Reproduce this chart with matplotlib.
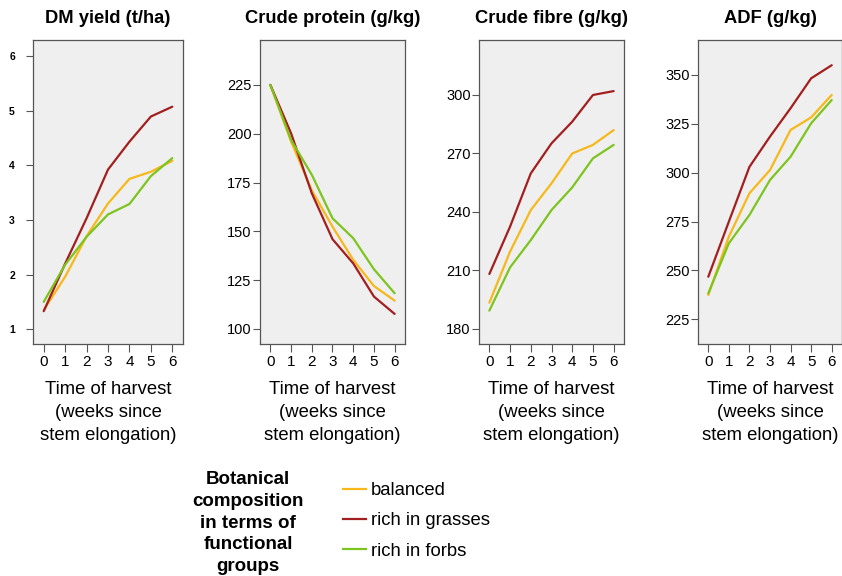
import matplotlib
matplotlib.use("Agg")
import matplotlib.pyplot as plt
from matplotlib.lines import Line2D

plt.rcParams['font.family'] = ['Liberation Sans', 'DejaVu Sans']

weeks = [0, 1, 2, 3, 4, 5, 6]
series_names = ["balanced", "rich in grasses", "rich in forbs"]
series_colors = ["#F6B81A", "#A11F1F", "#7DC41F"]

titles = ["DM yield (t/ha)", "Crude protein (g/kg)", "Crude fibre (g/kg)", "ADF (g/kg)"]

dm_balanced = [1.35, 1.96, 2.70, 3.30, 3.75, 3.88, 4.08]
dm_grasses = [1.33, 2.20, 3.03, 3.92, 4.43, 4.89, 5.07]
dm_forbs = [1.50, 2.18, 2.69, 3.10, 3.29, 3.80, 4.13]

cp_balanced = [225, 196, 171, 152.4, 135.4, 122, 114.5]
cp_grasses = [225, 200.2, 169.5, 146, 133.6, 116.6, 107.7]
cp_forbs = [225, 196.8, 179, 156.7, 146.5, 130.6, 118.3]

cf_balanced = [193.5, 219.7, 241, 254.7, 270, 274.4, 282]
cf_grasses = [208.2, 232.5, 259.8, 275.2, 286.3, 300, 302]
cf_forbs = [189.4, 211.6, 225.6, 241, 252.6, 267.5, 274.4]

adf_balanced = [237.5, 267.3, 289.5, 301.4, 321.9, 328.3, 339.8]
adf_grasses = [246.8, 275, 303, 318.5, 333, 348.3, 355]
adf_forbs = [238.3, 263.9, 278.4, 296.3, 308.2, 325.3, 337.2]

yticks = [
    [1, 2, 3, 4, 5, 6],
    [100, 125, 150, 175, 200, 225],
    [180, 210, 240, 270, 300],
    [225, 250, 275, 300, 325, 350],
]
ylims = [(0.73, 6.29), (92.3, 248), (172.3, 328.2), (212.4, 367.9)]

panels = [
    (dm_balanced, dm_grasses, dm_forbs),
    (cp_balanced, cp_grasses, cp_forbs),
    (cf_balanced, cf_grasses, cf_forbs),
    (adf_balanced, adf_grasses, adf_forbs),
]

W, H = 842, 576
fig = plt.figure(figsize=(W / 100, H / 100), dpi=100)
fig.patch.set_facecolor("white")

lefts = [33, 260, 479, 698]
widths = [150, 145, 145, 144]
top, bottom = 40, 344

xlabel = "Time of harvest\n(weeks since\nstem elongation)"

for i, (vals, l, w) in enumerate(zip(panels, lefts, widths)):
    ax = fig.add_axes([l / W, 1 - bottom / H, w / W, (bottom - top) / H])
    ax.set_facecolor("#EFEFEF")
    for v, c in zip(vals, series_colors):
        ax.plot(weeks, v, color=c, lw=1.6, solid_capstyle="round")
    ax.set_xlim(-0.5, 6.5)
    ax.set_ylim(*ylims[i])
    ax.set_xticks(weeks)
    ax.set_yticks(yticks[i])
    for s in ax.spines.values():
        s.set_color("#555555")
        s.set_linewidth(0.9)
    if i == 0:
        ax.tick_params(axis="y", labelsize=7.5, direction="out", length=5, pad=8,
                       color="#555555")
        for t in ax.get_yticklabels():
            t.set_fontweight("bold")
    else:
        ax.tick_params(axis="y", labelsize=10.5, direction="out", length=5, pad=1,
                       color="#555555")
    ax.tick_params(axis="x", labelsize=11, direction="out", length=6, pad=2,
                   color="#555555")
    ax.set_title(titles[i], fontsize=13.2, fontweight="bold", pad=12)
    ax.set_xlabel(xlabel, fontsize=13.3, labelpad=8.5, linespacing=1.47)

fig.text(248 / W, 1 - 523 / H, "Botanical\ncomposition\nin terms of\nfunctional\ngroups",
         ha="center", va="center", fontsize=13.5, fontweight="bold", linespacing=1.36)

handles = [Line2D([], [], color=c, lw=1.6) for c in series_colors]
fig.legend(handles, series_names, loc="upper left",
           bbox_to_anchor=(343 / W, 1 - 482 / H), frameon=False, fontsize=13.3,
           handlelength=1.25, handletextpad=0.25, labelspacing=0.72, borderpad=0,
           borderaxespad=0)

fig.savefig("out.png", dpi=100)
